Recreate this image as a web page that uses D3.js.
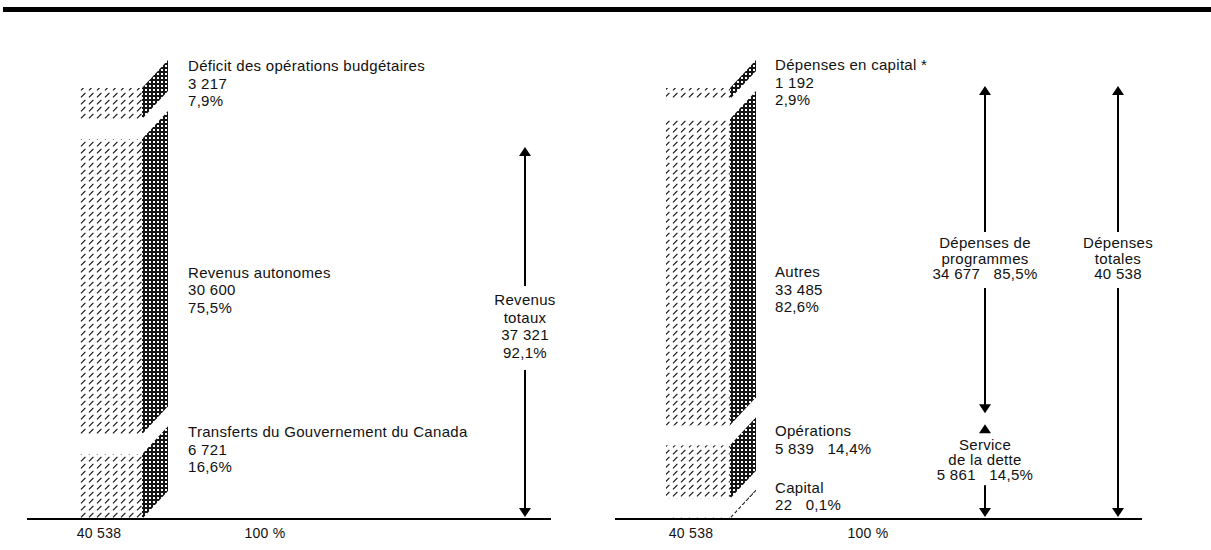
<!DOCTYPE html>
<html>
<head>
<meta charset="utf-8">
<script src="https://cdn.jsdelivr.net/npm/d3@7/dist/d3.min.js"></script>
<style>
  body { margin: 0; background: #fff; }
  text { font-family: "Liberation Sans", Arial, sans-serif; font-size: 15px; fill: #111; letter-spacing: 0.3px; }
  .axis-label { font-size: 14px; }
</style>
</head>
<body>
<div id="chart"></div>
<script>
// revenus (gauche), du bas vers le haut
const revCategories = ["Transferts du Gouvernement du Canada", "Revenus autonomes", "Déficit des opérations budgétaires"];
const revValues = [6721, 30600, 3217];
const revPercents = ["16,6%", "75,5%", "7,9%"];

// dépenses (droite), du bas vers le haut
const depCategories = ["Capital", "Opérations", "Autres", "Dépenses en capital *"];
const depValues = [22, 5839, 33485, 1192];
const depPercents = ["0,1%", "14,4%", "82,6%", "2,9%"];

// accolades / flèches
const revTotalLines = ["Revenus", "totaux", "37 321", "92,1%"];
const progLines = ["Dépenses de", "programmes", "34 677\u00a0\u00a0\u00a085,5%"];
const detteLines = ["Service", "de la dette", "5 861\u00a0\u00a0\u00a014,5%"];
const totLines = ["Dépenses", "totales", "40 538"];
const axisLabels = ["40 538", "100 %"];

const width = 1211, height = 550;
const baseY = 519, topY = 88, gap = 20;
const frontW = 64, depthX = 26, depthY = 28;

// where each label block sits relative to its segment
const labelPlace = {
    "Transferts du Gouvernement du Canada": {at: "top", dy: -17},
    "Revenus autonomes": {at: "mid", dy: -9},
    "Déficit des opérations budgétaires": {at: "top", dy: -17},
    "Capital": {at: "top", dy: -25},
    "Opérations": {at: "top", dy: -9},
    "Autres": {at: "mid", dy: 5},
    "Dépenses en capital *": {at: "top", dy: -18}
};
const inline = new Set(["Capital", "Opérations"]);

const fr = d3.formatLocale({decimal: ",", thousands: "\u00a0", grouping: [3], currency: ["", ""]});
const fmt = fr.format(",d");

const svg = d3.select("#chart").append("svg")
    .attr("width", width)
    .attr("height", height);

const defs = svg.append("defs");
const hatch = defs.append("pattern")
    .attr("id", "hatch")
    .attr("patternUnits", "userSpaceOnUse")
    .attr("width", 8).attr("height", 7);
hatch.append("path")
    .attr("d", "M1,6.3 L5.4,1.9")
    .attr("stroke", "#111")
    .attr("stroke-width", 1.2);

const dense = defs.append("pattern")
    .attr("id", "dense")
    .attr("patternUnits", "userSpaceOnUse")
    .attr("width", 4).attr("height", 4);
dense.append("rect").attr("width", 4).attr("height", 4).attr("fill", "#151515");
dense.append("rect").attr("x", 1).attr("y", 1).attr("width", 2).attr("height", 2).attr("fill", "#fff");

// filet du haut
svg.append("rect")
    .attr("x", 3).attr("y", 7)
    .attr("width", width - 3).attr("height", 5)
    .attr("fill", "#000");

function segments(values) {
    const n = values.length;
    const h = d3.scaleLinear()
        .domain([0, d3.sum(values)])
        .range([0, baseY - topY - gap * (n - 1)]);
    let cum = 0;
    return values.map((v, i) => {
        const y0 = baseY - h(cum) - i * gap;
        const y1 = y0 - Math.max(h(v), 1.5);
        cum += v;
        return {value: v, i, y0, y1};
    });
}

function drawBar(g, segs, barX) {
    const bx = barX + frontW;
    g.selectAll(".front")
        .data(segs)
        .enter()
        .append("rect")
        .attr("class", "front")
        .attr("x", barX)
        .attr("y", d => d.y1)
        .attr("width", frontW)
        .attr("height", d => d.y0 - d.y1)
        .attr("fill", "url(#hatch)");

    g.selectAll(".side")
        .data(segs)
        .enter()
        .append("path")
        .attr("class", "side")
        .attr("d", d => `M${bx},${d.y1} L${bx + depthX},${d.y1 - depthY} L${bx + depthX},${d.y0 - depthY} L${bx},${d.y0} Z`)
        .attr("fill", "url(#dense)");
}

function drawLines(g, x, y, lines, anchor, step) {
    const t = g.append("text")
        .attr("text-anchor", anchor || "start");
    lines.forEach((l, i) => {
        t.append("tspan")
            .attr("x", x)
            .attr("y", y + i * (step || 17.5))
            .text(l);
    });
}

function segLabels(g, segs, cats, values, pcts, labelX) {
    segs.forEach((s, i) => {
        const c = cats[i];
        const p = labelPlace[c];
        const y = (p.at === "mid" ? (s.y0 + s.y1) / 2 : s.y1) + p.dy;
        const lines = inline.has(c)
            ? [c, fmt(values[i]) + "\u00a0\u00a0\u00a0" + pcts[i]]
            : [c, fmt(values[i]), pcts[i]];
        drawLines(g, labelX, y, lines);
    });
}

function arrowHead(g, x, y, dir) {
    // dir = -1 pointe vers le haut, 1 vers le bas
    g.append("path")
        .attr("d", `M${x},${y} L${x - 6},${y - dir * 9} L${x + 6},${y - dir * 9} Z`)
        .attr("fill", "#000");
}

function vline(g, x, ya, yb) {
    g.append("line")
        .attr("x1", x).attr("x2", x)
        .attr("y1", ya).attr("y2", yb)
        .attr("stroke", "#000")
        .attr("stroke-width", 2);
}

function baseline(g, xa, xb, labelXs) {
    g.append("line")
        .attr("x1", xa).attr("x2", xb)
        .attr("y1", baseY).attr("y2", baseY)
        .attr("stroke", "#000")
        .attr("stroke-width", 2);
    g.selectAll(".axis-label")
        .data(axisLabels)
        .enter()
        .append("text")
        .attr("class", "axis-label")
        .attr("x", (d, i) => labelXs[i])
        .attr("y", baseY + 19)
        .attr("text-anchor", "middle")
        .text(d => d);
}

// ---------- panneau gauche : revenus ----------
const left = svg.append("g").attr("class", "revenus");
const leftBarX = 78;
const revSegs = segments(revValues);
drawBar(left, revSegs, leftBarX);
baseline(left, 27, 551, [99, 265]);
segLabels(left, revSegs, revCategories, revValues, revPercents, 188);

// revenus totaux : transferts + revenus autonomes
{
    const x = 525;
    const yTop = revSegs[1].y1 + 8;
    arrowHead(left, x, yTop, -1);
    vline(left, x, yTop + 6, 286);
    drawLines(left, x, 305, revTotalLines, "middle", 17.7);
    vline(left, x, 370, baseY - 6);
    arrowHead(left, x, baseY - 2, 1);
}

// ---------- panneau droit : dépenses ----------
const right = svg.append("g").attr("class", "depenses");
const rightBarX = 666;
const depSegs = segments(depValues);
drawBar(right, depSegs, rightBarX);
baseline(right, 615, 1142, [691, 868]);
segLabels(right, depSegs, depCategories, depValues, depPercents, 775);

// dépenses de programmes : capital + autres ; service de la dette : opérations + capital
{
    const x = 985;
    const yTop = depSegs[3].y1 - 2;
    const mid = (depSegs[2].y0 + depSegs[1].y1) / 2;
    arrowHead(right, x, yTop, -1);
    vline(right, x, yTop + 6, 232);
    drawLines(right, x, 248, progLines, "middle", 15.5);
    vline(right, x, 288, mid - 28);
    arrowHead(right, x, mid - 22, 1);

    arrowHead(right, x, mid - 11, -1);
    drawLines(right, x, mid + 15, detteLines, "middle", 15);
    vline(right, x, mid + 50, baseY - 6);
    arrowHead(right, x, baseY - 2, 1);
}

// dépenses totales
{
    const x = 1118;
    const yTop = depSegs[3].y1 - 2;
    arrowHead(right, x, yTop, -1);
    vline(right, x, yTop + 6, 232);
    drawLines(right, x, 248, totLines, "middle", 15.5);
    vline(right, x, 288, baseY - 6);
    arrowHead(right, x, baseY - 2, 1);
}
</script>
</body>
</html>
